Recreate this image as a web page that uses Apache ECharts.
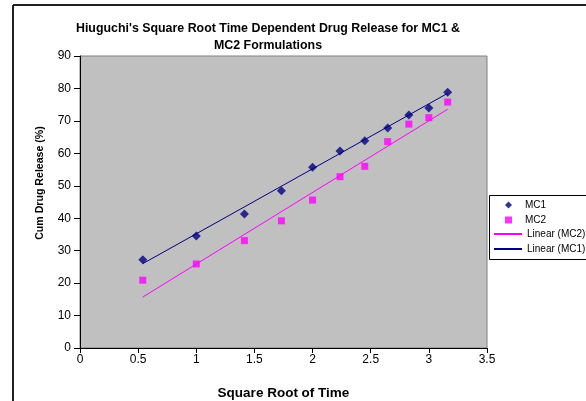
<!DOCTYPE html>
<html>
<head>
<meta charset="utf-8">
<script src="https://cdn.jsdelivr.net/npm/echarts@6/dist/echarts.min.js"></script>
<style>html,body{margin:0;padding:0;background:#fff}#c{width:586px;height:401px}</style>
</head>
<body>
<div id="c"></div>
<script>
var titleText = "Hiuguchi's Square Root Time Dependent Drug Release for MC1 &\nMC2 Formulations";
var xValues = [0.54, 1, 1.414, 1.732, 2, 2.236, 2.449, 2.646, 2.828, 3, 3.162];
var mc1 = [27.2, 34.5, 41.3, 48.5, 55.7, 60.7, 63.9, 67.8, 71.8, 74.0, 78.8];
var mc2 = [20.9, 25.9, 33.1, 39.2, 45.6, 52.8, 56.0, 63.6, 69.0, 71.0, 75.8];
var trendMC1 = [26.0, 78.5];
var trendMC2 = [15.7, 73.6];
var seriesNames = ['MC1', 'MC2', 'Linear (MC2)', 'Linear (MC1)'];

function pairs(xs, ys) { return ys.map(function (y, i) { return [xs[i], y]; }); }
var trendX = [xValues[0], xValues[xValues.length - 1]];

var chart = echarts.init(document.getElementById('c'));
chart.setOption({
  animation: false,
  backgroundColor: '#fff',
  textStyle: { fontFamily: 'Liberation Sans, Arial, sans-serif' },
  title: {
    text: titleText,
    left: 263,
    textAlign: 'center',
    top: 15,
    textStyle: { fontSize: 12.4, fontWeight: 'bold', lineHeight: 17, color: '#000' }
  },
  grid: {
    left: 80, right: 99, top: 56, bottom: 53,
    containLabel: false, outerBoundsMode: 'none',
    show: true, backgroundColor: '#c0c0c0', borderColor: '#808080', borderWidth: 1
  },
  xAxis: {
    type: 'value', min: 0, max: 3.5, interval: 0.5,
    name: 'Square Root of Time', nameLocation: 'middle', nameGap: 38,
    nameTextStyle: { fontSize: 13.5, fontWeight: 'bold', color: '#000' },
    axisLine: { lineStyle: { color: '#000', width: 1 } },
    axisTick: { show: true, length: 5, lineStyle: { color: '#000' } },
    axisLabel: { fontSize: 12, color: '#000', margin: 6 },
    splitLine: { show: false }
  },
  yAxis: {
    type: 'value', min: 0, max: 90, interval: 10,
    name: 'Cum Drug Release (%)', nameLocation: 'middle', nameGap: 34, nameRotate: 90,
    nameTextStyle: { fontSize: 10.6, fontWeight: 'bold', color: '#000', padding: [0, 0, 0, 38] },
    axisLine: { show: true, lineStyle: { color: '#000', width: 1 } },
    axisTick: { show: true, length: 6, lineStyle: { color: '#000' } },
    axisLabel: { fontSize: 12, color: '#000', margin: 9 },
    splitLine: { show: false }
  },
  legend: [
    {
      data: [{ name: 'MC1', icon: 'diamond' }, { name: 'MC2', icon: 'rect' }],
      orient: 'vertical', left: 505, top: 199, padding: 0,
      itemWidth: 7, itemHeight: 7, itemGap: 3,
      textStyle: { fontSize: 10, color: '#000', padding: [0, 0, 0, 8], lineHeight: 12 }
    },
    {
      data: [{ name: 'Linear (MC2)', icon: 'rect' }, { name: 'Linear (MC1)', icon: 'rect' }],
      orient: 'vertical', left: 494, top: 228, padding: 0,
      itemWidth: 28, itemHeight: 2, itemGap: 3,
      textStyle: { fontSize: 10, color: '#000', lineHeight: 12 }
    }
  ],
  graphic: [
    { type: 'rect', shape: { x: 489.5, y: 195.5, width: 97, height: 64 }, style: { fill: 'none', stroke: '#000', lineWidth: 1 }, silent: true },
    { type: 'line', shape: { x1: 13, y1: 5, x2: 586, y2: 5 }, style: { stroke: '#222', lineWidth: 2 }, silent: true },
    { type: 'line', shape: { x1: 13, y1: 5, x2: 13, y2: 401 }, style: { stroke: '#222', lineWidth: 2 }, silent: true }
  ],
  series: [
    {
      name: seriesNames[0], type: 'scatter', symbol: 'diamond', symbolSize: 9,
      itemStyle: { color: '#000080' }, data: pairs(xValues, mc1), z: 3
    },
    {
      name: seriesNames[1], type: 'scatter', symbol: 'rect', symbolSize: 7,
      itemStyle: { color: '#ff00ff' }, data: pairs(xValues, mc2), z: 3
    },
    {
      name: seriesNames[2], type: 'line', symbol: 'none', showSymbol: false,
      lineStyle: { color: '#ff00ff', width: 1 }, itemStyle: { color: '#ff00ff' },
      data: pairs(trendX, trendMC2), z: 2
    },
    {
      name: seriesNames[3], type: 'line', symbol: 'none', showSymbol: false,
      lineStyle: { color: '#000080', width: 1 }, itemStyle: { color: '#000080' },
      data: pairs(trendX, trendMC1), z: 2
    }
  ]
});
</script>
</body>
</html>
